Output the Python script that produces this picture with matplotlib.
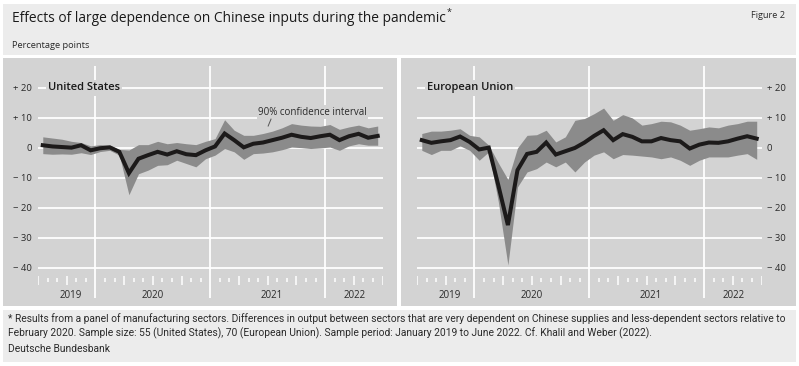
import matplotlib
matplotlib.use("Agg")
import matplotlib.pyplot as plt
import numpy as np
from matplotlib.patches import Rectangle

# ---------------- data (monthly, Jul 2019 - Jun 2022) ----------------
years = ["2019", "2020", "2021", "2022"]
year_months = [6, 12, 12, 6]          # months shown per year

us_mid = [0.9, 0.5, 0.3, 0.1, 0.9, -0.8, -0.1, 0.2, -1.3, -8.4, -3.6, -2.4,
          -1.3, -2.2, -1.1, -2.1, -2.4, -0.8, 0.5, 4.8, 2.6, 0.2, 1.4, 1.8,
          2.6, 3.4, 4.4, 3.7, 3.3, 3.9, 4.4, 2.6, 3.9, 4.7, 3.4, 4.0]
us_hi = [3.7, 3.3, 2.9, 2.2, 1.8, 0.7, 1.1, 0.9, -0.5, -0.7, 1.1, 1.1,
         2.2, 1.4, 1.8, 1.4, 1.1, 2.2, 3.1, 9.4, 5.9, 4.2, 4.2, 4.8,
         5.6, 6.7, 8.1, 7.6, 7.3, 7.2, 7.8, 6.2, 7.0, 7.6, 6.7, 7.3]
us_lo = [-1.9, -2.1, -2.0, -2.1, -1.6, -2.2, -1.2, -0.8, -2.4, -15.6, -8.6, -7.4,
         -5.8, -5.6, -4.1, -5.2, -6.3, -3.6, -2.4, -0.2, -1.3, -3.8, -1.9, -1.7,
         -1.3, -0.6, 0.3, 0.1, -0.2, 0.0, 0.3, -0.8, 0.7, 1.4, 0.9, 0.9]

eu_mid = [2.6, 1.7, 2.2, 2.6, 3.8, 2.0, -0.5, 0.1, -12.5, -25.7, -7.4, -2.0,
          -1.3, 1.8, -2.2, -1.1, 0.0, 1.8, 4.0, 5.9, 2.6, 4.6, 3.7, 2.2,
          2.2, 3.3, 2.6, 2.2, -0.2, 1.1, 1.8, 1.7, 2.2, 3.1, 3.9, 3.1]
eu_hi = [4.8, 5.6, 5.6, 5.9, 6.4, 4.2, 3.7, 0.9, -5.0, -10.5, 0.0, 4.2,
         4.4, 5.9, 2.0, 3.7, 9.2, 9.8, 11.4, 13.3, 9.2, 11.1, 10.0, 7.6,
         8.1, 8.9, 8.7, 7.6, 5.9, 6.4, 7.0, 6.7, 7.6, 8.1, 8.9, 8.9]
eu_lo = [-0.8, -2.2, -0.8, -0.8, 0.7, -0.8, -4.1, -1.3, -18.0, -39.0, -13.0, -8.0,
         -6.9, -4.7, -6.3, -4.7, -8.0, -4.7, -2.4, -1.3, -3.6, -2.2, -2.4, -2.7,
         -3.0, -3.6, -3.0, -4.1, -5.8, -4.1, -3.0, -3.0, -3.0, -2.4, -1.9, -3.8]

yticks = [20, 10, 0, -10, -20, -30, -40]
ytick_labels = ["+ 20", "+ 10", "0", "\u2212 10", "\u2212 20", "\u2212 30", "\u2212 40"]

title = "Effects of large dependence on Chinese inputs during the pandemic"
subtitle = "Percentage points"
fig_label = "Figure 2"
foot1 = ("* Results from a panel of manufacturing sectors. Differences in output between sectors that are very "
         "dependent on Chinese supplies and less-dependent sectors relative to")
foot2 = ("February 2020. Sample size: 55 (United States), 70 (European Union). Sample period: January 2019 "
         "to June 2022. Cf. Khalil and Weber (2022).")
source = "Deutsche Bundesbank"

# ---------------- styling ----------------
W, H, DPI = 799, 366, 100
PANEL = "#d3d3d3"
LIGHT = "#ececec"
BAND = "#8b8b8b"
LINE = "#1c1a1a"
TXT = "#2a2a2a"
SANS = ["Open Sans", "DejaVu Sans"]
NARROW = ["Liberation Sans Narrow", "Roboto", "DejaVu Sans"]

fig = plt.figure(figsize=(W / DPI, H / DPI), dpi=DPI, facecolor="white")
renderer = fig.canvas.get_renderer()


def fx(x):
    return x / W


def fy(y):
    return 1 - y / H


def rect(x0, y0, x1, y1, color):
    fig.patches.append(Rectangle((fx(x0), fy(y1)), (x1 - x0) / W, (y1 - y0) / H,
                                 transform=fig.transFigure, facecolor=color,
                                 edgecolor="none", zorder=-5))


def fit(t, width):
    w = t.get_window_extent(renderer).width
    t.set_fontsize(t.get_fontsize() * width / w)
    return t


rect(3, 4, 796, 55, LIGHT)
rect(3, 58, 397, 306, PANEL)
rect(401, 58, 796, 306, PANEL)
rect(3, 310, 796, 362, LIGHT)

# header texts
t = fig.text(fx(12.5), fy(18), title, family=SANS, fontsize=11, color="#1a1a1a",
             va="center", ha="left")
fit(t, 433)
fig.text(fx(446.5), fy(12.5), "*", family=SANS, fontsize=6.5, color="#1a1a1a",
         va="center", ha="left")
t = fig.text(fx(12.5), fy(45), subtitle, family=SANS, fontsize=7, color=TXT,
             va="center", ha="left")
fit(t, 79)
t = fig.text(fx(785), fy(15.5), fig_label, family=SANS, fontsize=7, color=TXT,
             va="center", ha="right")
fit(t, 34)

# footer
t1 = fig.text(fx(8), fy(318.5), foot1, family=NARROW, fontsize=7, color=TXT,
              va="center", ha="left")
fit(t1, 779)
fs = t1.get_fontsize()
fig.text(fx(8), fy(333.5), foot2, family=NARROW, fontsize=fs, color=TXT,
         va="center", ha="left")
fig.text(fx(8), fy(348.5), source, family=NARROW, fontsize=fs, color=TXT,
         va="center", ha="left")

# ---------------- panels ----------------
x = np.arange(len(us_mid)) + 0.5
n_months = sum(year_months)
bounds = np.cumsum([0] + year_months)   # year boundaries in month units
label_shift = [0.45, 0.0, 0.4, 0.1]     # small offsets of year labels


def panel(left_px, mid, lo, hi, name, name_w, right_labels):
    ax = fig.add_axes([fx(left_px), fy(298), 344.5 / W, 232 / H], zorder=2)
    ax.set_facecolor("none")
    ax.set_xlim(0, n_months)
    ax.set_ylim(-50, 27.3)
    for s in ax.spines.values():
        s.set_visible(False)
    ax.set_xticks([])
    ax.set_yticks(yticks)
    ax.set_yticklabels(ytick_labels, family=SANS, fontsize=6.8, color=TXT)
    if right_labels:
        ax.yaxis.tick_right()
        ax.tick_params(axis="y", length=0, pad=3.6)
        for lab in ax.get_yticklabels():
            lab.set_horizontalalignment("left")
    else:
        ax.tick_params(axis="y", length=0, pad=4.3)

    for v in yticks:
        ax.axhline(v, color="white", lw=1.3, zorder=1)
    for b in bounds[1:-1]:
        ax.axvline(b, color="white", lw=1.3, zorder=1)

    # month ticks
    for k in range(n_months + 1):
        if k in bounds[1:-1]:
            continue
        if k % 3 == 0:
            ax.vlines(k, -45.7, -42.8, color="white", lw=1.1, zorder=1)
        else:
            ax.vlines(k, -44.6, -43.2, color="white", lw=1.1, zorder=1)
    for i, yr in enumerate(years):
        cx = (bounds[i] + bounds[i + 1]) / 2 + label_shift[i]
        ax.text(cx, -49.2, yr, family=SANS, fontsize=7, color=TXT,
                ha="center", va="center", clip_on=False)

    ax.fill_between(x, lo, hi, color=BAND, lw=0, zorder=2)
    ax.plot(x, mid, color=LINE, lw=2.9, zorder=3, solid_joinstyle="miter")

    t = ax.text(1.05, 20, name, family=SANS, fontweight="semibold", fontsize=8,
                color="#1a1a1a", ha="left", va="center", zorder=4,
                bbox=dict(facecolor=PANEL, edgecolor="none", pad=1.5))
    fit(t, name_w)
    return ax


ax1 = panel(38, us_mid, us_lo, us_hi, "United States", 72, False)
ax2 = panel(417, eu_mid, eu_lo, eu_hi, "European Union", 86.7, True)

t = ax1.text(23.0, 11.9, "90% confidence interval", family=SANS, fontsize=7,
             color=TXT, ha="left", va="center", zorder=4,
             bbox=dict(facecolor=PANEL, edgecolor="none", pad=1.0))
fit(t, 109)
ax1.plot([24.35, 24.05], [9.6, 7.3], color="#555555", lw=0.7, zorder=4)

fig.savefig("out.png", dpi=DPI, facecolor="white")
